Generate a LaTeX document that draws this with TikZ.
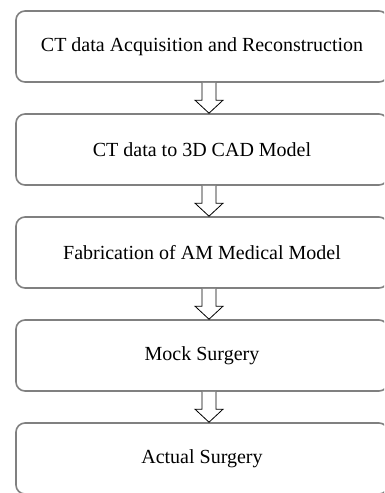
\documentclass[tikz,border=0pt]{standalone}
\usepackage{fontspec}
\setmainfont{Liberation Serif}
\usetikzlibrary{calc}

% hollow block arrow from one stage to the next
\newcommand{\stagearrow}[2]{%
  \draw[hollow] (#1.south) -- ($(#2.north)+(0,13)$) -- ++(-7,0)
    -- ($(#2.north)+(7,0)$) -- ($(#2.north)+(21,13)$) -- ++(-7,0)
    -- ($(#1.south)+(14,0)$);
}

\begin{document}
\begin{tikzpicture}[x=1pt, y=1pt,
    stage/.style={draw=black!50, line width=1.6pt, rounded corners=9pt,
      minimum width=372pt, minimum height=71pt, inner sep=0pt,
      font=\fontsize{20}{24}\selectfont},
    hollow/.style={draw=black, line width=0.8pt, fill=white}]
  % page frame
  \useasboundingbox (0,0) rectangle (384,-493);
  \clip (0,0) rectangle (384,-493);

  % stages
  \node[stage] (acq)  at (202,-46.5)  {CT data Acquisition and Reconstruction};
  \node[stage] (cad)  at (202,-149.5) {CT data to 3D CAD Model};
  \node[stage] (fab)  at (202,-252.5) {Fabrication of AM Medical Model};
  \node[stage] (mock) at (202,-355.5) {Mock Surgery};
  \node[stage] (real) at (202,-458.5) {Actual Surgery};

  % arrows between stages
  \stagearrow{acq}{cad}
  \stagearrow{cad}{fab}
  \stagearrow{fab}{mock}
  \stagearrow{mock}{real}
\end{tikzpicture}
\end{document}
